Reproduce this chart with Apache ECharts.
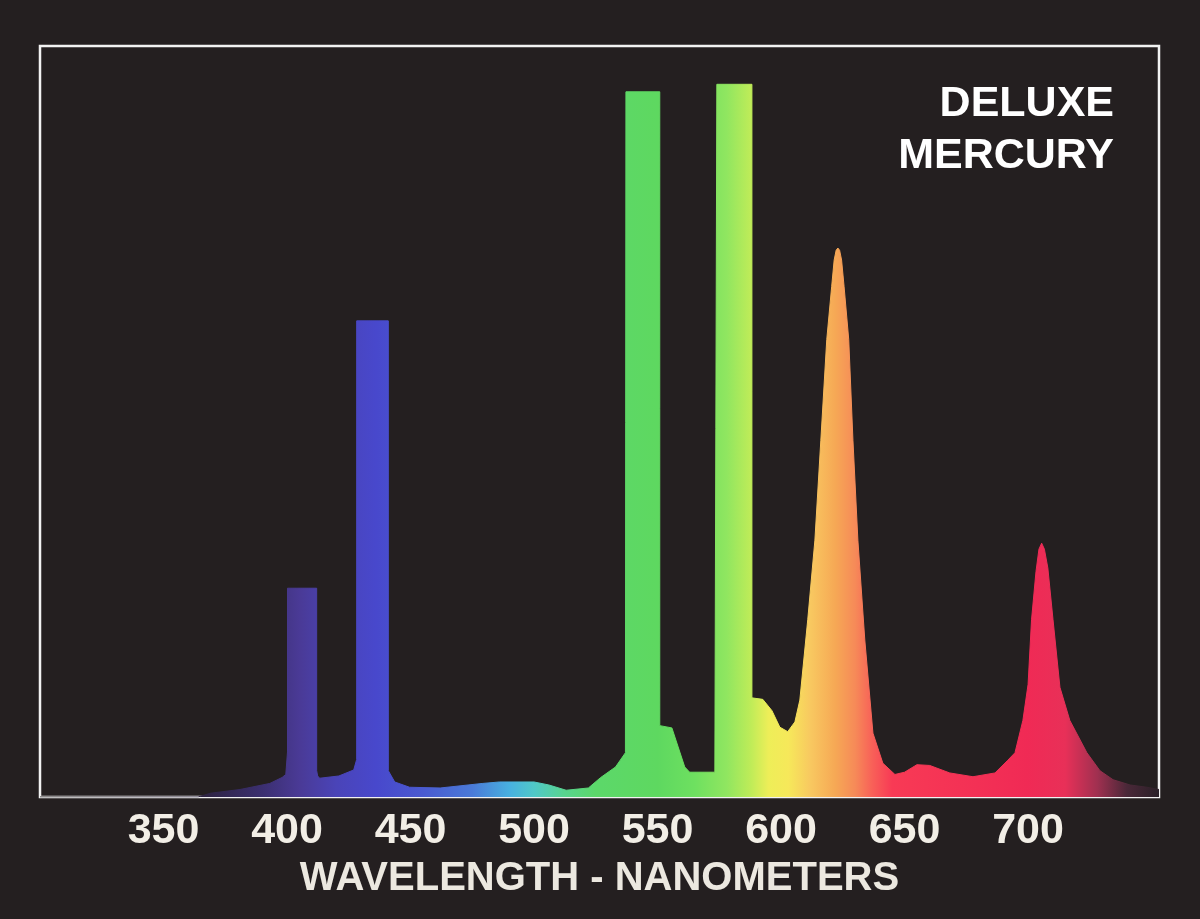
<!DOCTYPE html>
<html>
<head>
<meta charset="utf-8">
<script src="https://cdn.jsdelivr.net/npm/echarts@6/dist/echarts.min.js"></script>
<style>
html,body{margin:0;padding:0;background:#241f20;}
#chart{width:1200px;height:919px;}
</style>
</head>
<body>
<div id="chart"></div>
<script>
// Wavelength (nm) and relative intensity
const wavelengths = [300,364,369,381,393,398,399.5,400.2,400.2,412.0,412.0,412.4,413.2,421,427,428.2,428.2,441.0,441.0,443.6,449.6,462,479,486,500,506,513,522,527,533,537.0,537.2,550.9,550.9,551.7,555.8,561,563,573.2,574,588.2,588.2,592.6,596.3,599.5,602.7,605.6,607.6,610.8,613.7,616.1,618.5,620.5,621.5,622.3,623,623.7,624.5,625.5,627.4,629.1,631.1,633.9,637.2,641.2,646.1,650,655,660.2,668.3,677.7,686.6,691.8,694.7,697.9,700,701.4,703.2,704.4,705.5,706.6,708,710.1,712.9,716.9,723.8,729.1,734.4,741.3,748.1,753];
const intensity   = [0,0,0.5,1.0,1.8,2.6,3.0,6.0,27.8,27.8,3.5,2.8,2.5,2.8,3.6,5.0,63.4,63.4,3.5,2.0,1.3,1.2,1.8,2.0,2.0,1.6,0.9,1.2,2.6,4.0,5.9,93.9,93.9,9.5,9.3,9.2,4.0,3.3,3.3,94.9,94.9,13.2,13.0,11.5,9.3,8.7,10.0,12.9,23.6,34.2,47.5,60.9,68,71.5,72.8,73.1,72.8,71.5,68,60.9,47.5,34.2,20.9,8.5,4.5,3.0,3.3,4.3,4.2,3.2,2.7,3.2,4.9,5.9,10.2,15,23.6,30,33,33.8,33,30.5,23.6,14.6,10.2,5.9,3.5,2.3,1.6,1.3,1.0];
const tickValues  = [350,400,450,500,550,600,650,700];
const chartTitle  = ['DELUXE','MERCURY'];
const axisTitle   = 'WAVELENGTH - NANOMETERS';

const xMin = 300, xMax = 753;
// colour stops keyed by wavelength
const colorNm  = [300,360,390,405,420,436,455,475,490,500,512,525,550,565,578,588,595,603,612,622,630,637,645,700,715,728,740,753];
const colorHex = ['#241f20','#2a2035','#3b2f70','#4a3a96','#4a44b8','#4848cc','#4a5ad0','#4a7ad8','#48b0e0','#50c8c8','#58d490','#5cd86a','#5ed860','#6ee060','#90e660','#c0ec58','#eeee58','#f6e85a','#f8c860','#f6a855','#f68a58','#f86058','#f83a55','#f02a55','#e83058','#a03050','#4a2838','#2a2028'];

const stops = colorNm.map((nm,i)=>({offset:(nm-xMin)/(xMax-xMin), color:colorHex[i]}));
const grad = () => new echarts.graphic.LinearGradient(0,0,1,0,stops);

const chart = echarts.init(document.getElementById('chart'));
chart.setOption({
  backgroundColor:'#241f20',
  animation:false,
  title: chartTitle.map((t,i)=>({
    text:t, right:81, top:78+i*52,
    textStyle:{color:'#ffffff',fontSize:43,fontWeight:'bold',fontFamily:'Liberation Sans'}
  })),
  grid:{left:40,right:41,top:46,bottom:122,show:true,borderColor:'#f2f2f2',borderWidth:2.5,backgroundColor:'transparent'},
  xAxis:{
    type:'value',min:xMin,max:xMax,interval:50,
    axisLine:{show:false},axisTick:{show:false},splitLine:{show:false},
    axisLabel:{
      color:'#f2eee6',fontSize:43,fontWeight:'bold',fontFamily:'Liberation Sans',margin:13,
      showMinLabel:false,showMaxLabel:false,
      formatter:v=>tickValues.includes(v)?String(v):''
    },
    name:axisTitle,nameLocation:'middle',nameGap:62,
    nameTextStyle:{color:'#ece8e0',fontSize:40,fontWeight:'bold',fontFamily:'Liberation Sans'}
  },
  yAxis:{type:'value',min:0,max:100,show:false,splitLine:{show:false}},
  series:[{
    type:'line',
    data:wavelengths.map((w,i)=>[w,intensity[i]]),
    showSymbol:false,
    smooth:false,
    lineStyle:{width:1,color:grad()},
    areaStyle:{color:grad(),opacity:1}
  }]
});
</script>
</body>
</html>
